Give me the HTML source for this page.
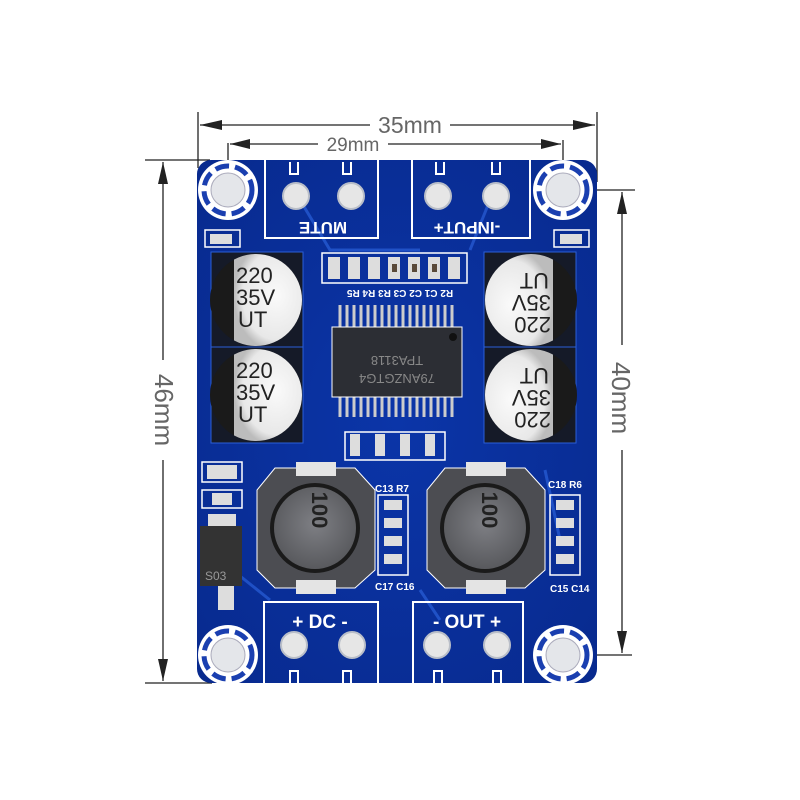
<!DOCTYPE html>
<html><head><meta charset="utf-8"><style>
html,body{margin:0;padding:0;background:#fff;width:800px;height:800px;overflow:hidden}
svg{display:block}
text{font-family:"Liberation Sans",sans-serif}
</style></head><body>
<svg width="800" height="800" viewBox="0 0 800 800">
<defs>
<radialGradient id="cap" cx="0.6" cy="0.45" r="0.6"><stop offset="0" stop-color="#fafafa"/><stop offset="0.8" stop-color="#e8e8e8"/><stop offset="1" stop-color="#bcbcbc"/></radialGradient>
<radialGradient id="ind" cx="0.5" cy="0.45" r="0.6"><stop offset="0" stop-color="#7e7f84"/><stop offset="1" stop-color="#55565a"/></radialGradient>
<radialGradient id="brd" cx="0.5" cy="0.5" r="0.7"><stop offset="0" stop-color="#0b35a8"/><stop offset="1" stop-color="#082a8e"/></radialGradient>
<g id="hole">
<circle r="30" fill="#fff"/>
<circle r="24" fill="none" stroke="#1a3fb0" stroke-width="5" stroke-dasharray="14 6"/>
<circle r="17" fill="#e4e6ea" stroke="#aab" stroke-width="1"/>
</g>
<g id="capL">
<rect x="-45" y="-48" width="92" height="96" fill="#151a28" stroke="#2a5fd8" stroke-width="1"/>
<circle r="46" fill="#1a1a1a"/>
<clipPath id="cc"><circle r="46"/></clipPath>
<rect x="-22" y="-46" width="70" height="92" fill="url(#cap)" clip-path="url(#cc)"/>
</g>
</defs>

<!-- dimension lines -->
<g stroke="#222" stroke-width="1.3" fill="none">
<line x1="198" y1="112" x2="198" y2="168"/>
<line x1="597" y1="112" x2="597" y2="182"/>
<line x1="200" y1="125" x2="370" y2="125"/><line x1="450" y1="125" x2="595" y2="125"/>
<line x1="228" y1="143" x2="228" y2="190"/>
<line x1="563" y1="140" x2="563" y2="190"/>
<line x1="563" y1="190" x2="635" y2="190"/>
<line x1="230" y1="144" x2="318" y2="144"/><line x1="388" y1="144" x2="561" y2="144"/>
<line x1="145" y1="160" x2="210" y2="160"/>
<line x1="145" y1="683" x2="212" y2="683"/>
<line x1="163" y1="162" x2="163" y2="360"/><line x1="163" y1="460" x2="163" y2="681"/>
<line x1="565" y1="655" x2="632" y2="655"/>
<line x1="622" y1="192" x2="622" y2="345"/><line x1="622" y1="450" x2="622" y2="653"/>
</g>
<g fill="#222">
<polygon points="200,125 222,120 222,130"/><polygon points="595,125 573,120 573,130"/>
<polygon points="230,144 250,139 250,149"/><polygon points="561,144 541,139 541,149"/>
<polygon points="163,162 158,184 168,184"/><polygon points="163,681 158,659 168,659"/>
<polygon points="622,192 617,214 627,214"/><polygon points="622,653 617,631 627,631"/>
</g>
<text x="410" y="133" font-size="23" fill="#666" text-anchor="middle">35mm</text>
<text x="353" y="151" font-size="19" fill="#666" text-anchor="middle">29mm</text>
<text transform="translate(155,410) rotate(90)" font-size="26" fill="#666" text-anchor="middle">46mm</text>
<text transform="translate(612,398) rotate(90)" font-size="26" fill="#666" text-anchor="middle">40mm</text>

<!-- board -->
<rect x="197" y="160" width="400" height="523" rx="14" fill="url(#brd)"/>
<g stroke="#2a5fd8" stroke-width="3" fill="none" opacity="0.7">
<path d="M300 200 L330 250 L420 250"/><path d="M490 200 L470 250"/><path d="M220 560 L270 600"/>
<path d="M420 590 L440 620"/><path d="M545 470 L560 540"/>
</g>
<use href="#hole" x="228" y="190"/><use href="#hole" x="563" y="190"/>
<use href="#hole" x="228" y="655"/><use href="#hole" x="563" y="655"/>

<!-- terminal blocks -->
<g fill="none" stroke="#fff" stroke-width="2">
<path d="M265 160 V238 H378 V160"/><path d="M412 160 V238 H530 V160"/>
<path d="M264 683 V602 H378 V683"/><path d="M413 683 V602 H523 V683"/>
<path d="M290 162 v12 h8 v-12 M343 162 v12 h8 v-12 M436 162 v12 h8 v-12 M492 162 v12 h8 v-12"/>
<path d="M290 683 v-12 h8 v12 M343 683 v-12 h8 v12 M434 683 v-12 h8 v12 M493 683 v-12 h8 v12"/>
</g>
<g fill="#e6e6e6" stroke="#b9bec8" stroke-width="2">
<circle cx="296" cy="196" r="13"/><circle cx="351" cy="196" r="13"/>
<circle cx="438" cy="196" r="13"/><circle cx="496" cy="196" r="13"/>
<circle cx="294" cy="645" r="13"/><circle cx="352" cy="645" r="13"/>
<circle cx="437" cy="645" r="13"/><circle cx="497" cy="645" r="13"/>
</g>
<g fill="#fff" font-weight="bold">
<text transform="translate(323,222) rotate(180)" font-size="17" text-anchor="middle">MUTE</text>
<text transform="translate(467,222) rotate(180)" font-size="17" text-anchor="middle">-INPUT+</text>
<text x="320" y="628" font-size="19" text-anchor="middle">+ DC -</text>
<text x="467" y="628" font-size="19" text-anchor="middle">- OUT +</text>
</g>

<!-- small parts top -->
<g fill="none" stroke="#fff" stroke-width="1.5">
<rect x="205" y="230" width="35" height="17"/><rect x="554" y="230" width="35" height="17"/>
<rect x="322" y="253" width="145" height="30"/>
</g>
<g fill="#ddd">
<rect x="210" y="234" width="22" height="10"/><rect x="560" y="234" width="22" height="10"/>
<rect x="328" y="257" width="12" height="22"/><rect x="348" y="257" width="12" height="22"/>
<rect x="368" y="257" width="12" height="22"/><rect x="388" y="257" width="12" height="22"/>
<rect x="408" y="257" width="12" height="22"/><rect x="428" y="257" width="12" height="22"/>
<rect x="448" y="257" width="12" height="22"/>
</g>
<g fill="#5a4a3a"><rect x="412" y="264" width="5" height="8"/><rect x="392" y="264" width="5" height="8"/><rect x="432" y="264" width="5" height="8"/></g>
<text transform="translate(400,290) rotate(180)" font-size="10" fill="#fff" font-weight="bold" text-anchor="middle">R2 C1 C2 C3 R3 R4 R5</text>

<!-- IC -->
<g stroke="#ccc" stroke-width="3">
<path d="M340 305v22M347 305v22M354 305v22M361 305v22M368 305v22M375 305v22M382 305v22M389 305v22M396 305v22M403 305v22M410 305v22M417 305v22M424 305v22M431 305v22M438 305v22M445 305v22M452 305v22"/>
<path d="M340 395v22M347 395v22M354 395v22M361 395v22M368 395v22M375 395v22M382 395v22M389 395v22M396 395v22M403 395v22M410 395v22M417 395v22M424 395v22M431 395v22M438 395v22M445 395v22M452 395v22"/>
</g>
<rect x="332" y="327" width="130" height="70" fill="#2c2e34" stroke="#fff" stroke-width="1"/>
<circle cx="453" cy="337" r="4" fill="#111"/>
<text transform="translate(397,356) rotate(180)" font-size="13" fill="#888" text-anchor="middle">TPA3118</text>
<text transform="translate(397,374) rotate(180)" font-size="13" fill="#888" text-anchor="middle">79ANZGTG4</text>

<!-- capacitors -->
<use href="#capL" x="256" y="300"/>
<use href="#capL" x="256" y="395"/>
<g transform="translate(531,300) rotate(180)"><use href="#capL"/></g>
<g transform="translate(531,395) rotate(180)"><use href="#capL"/></g>
<g font-size="22" fill="#222">
<text x="236" y="283">220</text><text x="236" y="305">35V</text><text x="238" y="327">UT</text>
<text x="236" y="378">220</text><text x="236" y="400">35V</text><text x="238" y="422">UT</text>
<g transform="translate(551,317) rotate(180)"><text>220</text><text y="22">35V</text><text x="2" y="44">UT</text></g>
<g transform="translate(551,412) rotate(180)"><text>220</text><text y="22">35V</text><text x="2" y="44">UT</text></g>
</g>

<!-- mid small parts -->
<g fill="none" stroke="#fff" stroke-width="1.5"><rect x="345" y="432" width="100" height="28"/><rect x="378" y="495" width="30" height="80"/><rect x="550" y="495" width="30" height="80"/><rect x="202" y="462" width="40" height="20"/><rect x="202" y="490" width="40" height="18"/></g>
<g fill="#ddd">
<rect x="350" y="434" width="10" height="22"/><rect x="375" y="434" width="10" height="22"/><rect x="400" y="434" width="10" height="22"/><rect x="425" y="434" width="10" height="22"/>
<rect x="384" y="500" width="18" height="10"/><rect x="384" y="518" width="18" height="10"/><rect x="384" y="536" width="18" height="10"/><rect x="384" y="554" width="18" height="10"/>
<rect x="556" y="500" width="18" height="10"/><rect x="556" y="518" width="18" height="10"/><rect x="556" y="536" width="18" height="10"/><rect x="556" y="554" width="18" height="10"/>
<rect x="207" y="465" width="30" height="14"/><rect x="212" y="493" width="20" height="12"/>
<rect x="208" y="514" width="28" height="12"/><rect x="218" y="585" width="16" height="25"/>
</g>
<text x="375" y="492" font-size="10" fill="#fff" font-weight="bold">C13 R7</text>
<text x="548" y="488" font-size="10" fill="#fff" font-weight="bold">C18 R6</text>
<text x="375" y="590" font-size="10" fill="#fff" font-weight="bold">C17 C16</text>
<text x="550" y="592" font-size="10" fill="#fff" font-weight="bold">C15 C14</text>

<rect x="200" y="526" width="42" height="60" fill="#333"/>
<text x="205" y="580" font-size="12" fill="#999">S03</text>

<!-- inductors -->
<g>
<polygon points="275,468 355,468 375,490 375,570 355,588 275,588 257,570 257,490" fill="#4c4d52" stroke="#fff" stroke-width="1"/>
<circle cx="315" cy="528" r="45" fill="#1a1a1a"/><circle cx="315" cy="528" r="41" fill="url(#ind)"/>
<rect x="296" y="462" width="40" height="14" fill="#e4e4e4"/><rect x="296" y="580" width="40" height="14" fill="#e4e4e4"/>
<text transform="translate(312,510) rotate(90)" font-size="22" fill="#222" font-weight="bold" text-anchor="middle">100</text>
</g>
<g>
<polygon points="445,468 525,468 545,490 545,570 525,588 445,588 427,570 427,490" fill="#4c4d52" stroke="#fff" stroke-width="1"/>
<circle cx="485" cy="528" r="45" fill="#1a1a1a"/><circle cx="485" cy="528" r="41" fill="url(#ind)"/>
<rect x="466" y="462" width="40" height="14" fill="#e4e4e4"/><rect x="466" y="580" width="40" height="14" fill="#e4e4e4"/>
<text transform="translate(482,510) rotate(90)" font-size="22" fill="#222" font-weight="bold" text-anchor="middle">100</text>
</g>
</svg>
</body></html>
